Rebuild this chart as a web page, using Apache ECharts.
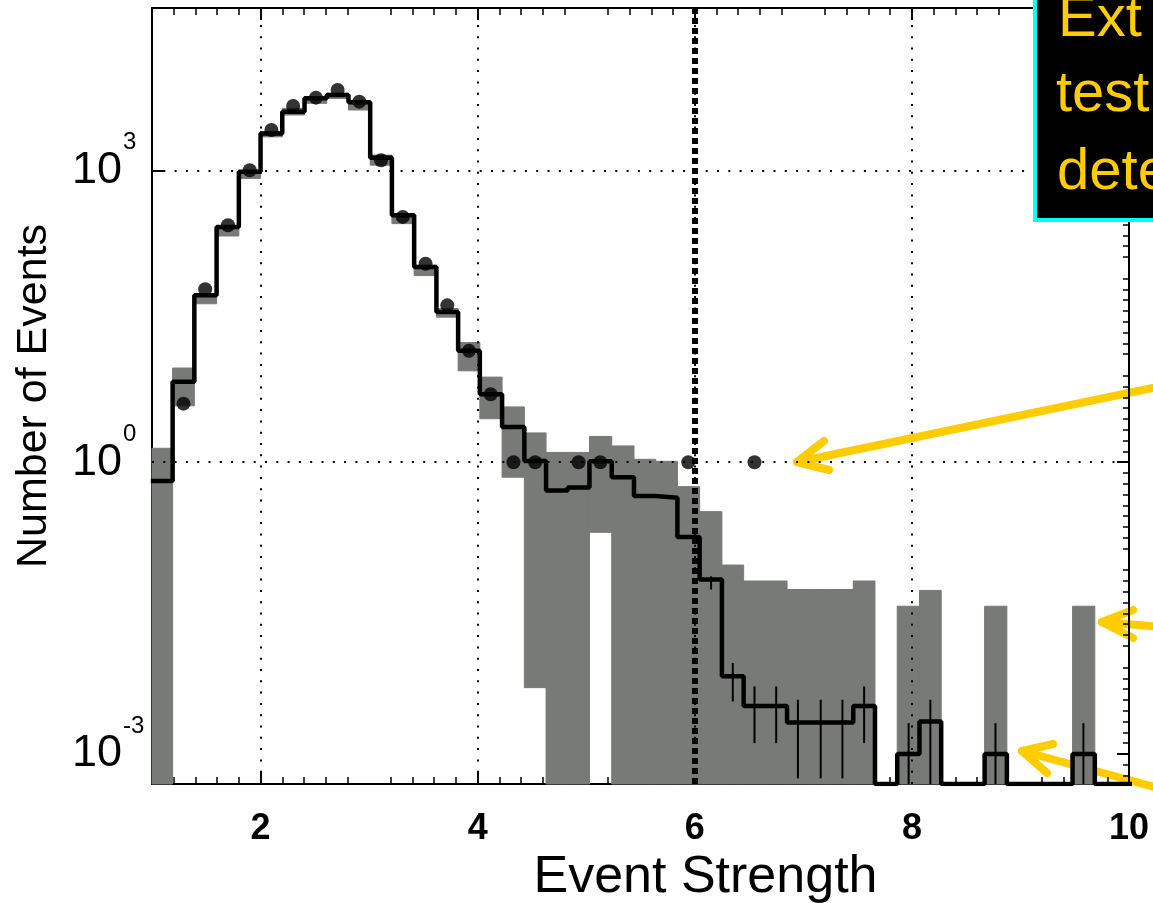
<!DOCTYPE html>
<html lang="en">

<head>
    <meta charset="UTF-8">
    <title>Event Strength</title>
    <script src="https://cdn.jsdelivr.net/npm/echarts@6/dist/echarts.min.js"></script>
    <style>
        html, body { margin: 0; padding: 0; background: #fff; }
        #container { width: 1153px; height: 903px; }
    </style>
</head>

<body>
    <div id="container"></div>
    <script type="text/javascript">
        // bin centres (bins are 0.2 wide)
        var binCenters = [1.09, 1.29, 1.49, 1.70, 1.90, 2.10, 2.30, 2.51, 2.71, 2.91,
            3.11, 3.31, 3.52, 3.72, 3.92, 4.12, 4.33, 4.53, 4.73, 4.93,
            5.13, 5.34, 5.54, 5.74, 5.94, 6.15, 6.35, 6.55, 6.75, 6.95,
            7.16, 7.36, 7.56, 7.76, 7.97, 8.17, 8.37, 8.57, 8.77, 8.98,
            9.18, 9.38, 9.58, 9.79, 9.99];
        // expected (black step line), 0 = empty bin
        var expected = [0.64, 6.7, 52, 262, 970, 2400, 4030, 5520, 5970, 5020,
            1350, 346, 102, 35, 14, 5.0, 2.3, 1.03, 0.51, 0.55,
            1.02, 0.70, 0.45, 0.43, 0.17, 0.062, 0.0063, 0.0031, 0.0031, 0.0021,
            0.0021, 0.0021, 0.0031, 0, 0.001, 0.00215, 0, 0, 0.001, 0,
            0, 0, 0.001, 0, 0];
        // observed events (dots)
        var observed = [0, 4, 60, 273, 1007, 2606, 4603, 5610, 6730, 5105,
            1276, 333, 110, 41, 14, 5, 1, 1, 0, 1,
            1, 0, 0, 0, 1, 0, 0, 1, 0, 0,
            0, 0, 0, 0, 0, 0, 0, 0, 0, 0,
            0, 0, 0, 0, 0];
        // grey systematic band, null = no band, 0 = down to the axis
        var bandLow = [0, 3.8, 42.6, 212, 828, 2220, 3720, 4910, 5520, 4190,
            1135, 284, 83, 31, 8.7, 2.8, 0.70, 0.0048, 0, 0,
            0.19, 0, 0, 0, 0, 0, 0, 0, 0, 0,
            0, 0, 0, null, 0, 0, null, null, 0, null,
            null, null, 0, null, null];
        var bandHigh = [1.39, 9.3, 54, 252, 970, 2510, 4360, 5520, 6220, 4910,
            1440, 361, 106, 38, 17, 7.5, 3.7, 2.0, 1.26, 1.26,
            1.84, 1.47, 1.07, 1.02, 0.56, 0.31, 0.0875, 0.060, 0.060, 0.049,
            0.049, 0.049, 0.060, null, 0.033, 0.048, null, null, 0.033, null,
            null, null, 0.033, null, null];
        // statistical error bars on the expectation
        var errLow = [null, null, null, null, null, null, null, null, null, null,
            null, null, null, null, null, null, null, null, null, null,
            null, null, null, null, null, 0.049, 0.00346, 0.00129, 0.00129, 0.00056,
            0.00056, 0.00056, 0.00129, null, 0, 0, null, null, 0, null,
            null, null, 0, null, null];
        var errHigh = [null, null, null, null, null, null, null, null, null, null,
            null, null, null, null, null, null, null, null, null, null,
            null, null, null, null, null, 0.067, 0.0086, 0.00494, 0.00494, 0.0036,
            0.0036, 0.0036, 0.00494, null, 0.00207, 0.0036, null, null, 0.00207, null,
            null, null, 0.00207, null, null];
        var xTickLabels = [2, 4, 6, 8, 10];
        var yTickLabels = [0.001, 1, 1000];
        var cutValue = 6;

        var xMin = 1, xMax = 10;
        var yMin = 4.9e-4, yMax = 4.69e4;
        var halfBin = 0.101;
        var font = "'Liberation Sans', Arial, Helvetica, sans-serif";
        var grey = '#787a77';
        var gold = '#ffcc00';

        // bin edges half way between neighbouring centres
        var n = binCenters.length;
        var edges = [binCenters[0] - halfBin];
        for (var i = 1; i < n; i++) edges.push((binCenters[i - 1] + binCenters[i]) / 2);
        edges.push(binCenters[n - 1] + halfBin);

        var stepData = [];
        var bandData = [];
        var errData = [];
        var dotData = [];
        for (var i = 0; i < n; i++) {
            var c = binCenters[i];
            var v = expected[i] > 0 ? expected[i] : yMin;
            stepData.push([edges[i], v], [edges[i + 1], v]);
            if (bandHigh[i] !== null) bandData.push([edges[i], edges[i + 1], bandLow[i], bandHigh[i]]);
            if (errHigh[i] !== null) errData.push([c, errLow[i], errHigh[i]]);
            if (observed[i] > 0) dotData.push([c, observed[i]]);
        }

        // small ticks on the right axis, evenly spaced in log (about 9 a decade)
        var rightMinor = [];
        for (var k = -29; k <= 42; k++) {
            if (k % 9 !== 0) rightMinor.push(Math.pow(10, k / 9));
        }

        function renderBand(params, api) {
            var lo = api.value(2) > 0 ? api.value(2) : yMin;
            var p1 = api.coord([Math.max(api.value(0), xMin), api.value(3)]);
            var p2 = api.coord([api.value(1), lo]);
            return {
                type: 'rect',
                shape: { x: p1[0], y: p1[1], width: p2[0] - p1[0], height: p2[1] - p1[1] },
                style: { fill: grey, stroke: grey, lineWidth: 1 }
            };
        }

        function renderErr(params, api) {
            var c = api.value(0);
            var lo = api.value(1) > 0 ? api.value(1) : yMin;
            var p1 = api.coord([c, lo]);
            var p2 = api.coord([c, api.value(2)]);
            return {
                type: 'line',
                shape: { x1: p1[0], y1: p1[1], x2: p2[0], y2: p2[1] },
                style: { stroke: '#000', lineWidth: 2 }
            };
        }

        function arrow(start, tip, arm1, arm2) {
            var st = { stroke: gold, lineWidth: 8, lineCap: 'round', lineJoin: 'round', fill: null };
            return {
                type: 'group',
                z: 102,
                children: [
                    { type: 'polyline', shape: { points: [start, tip] }, style: st },
                    { type: 'polyline', shape: { points: [arm1, tip, arm2] }, style: st }
                ]
            };
        }

        var dotted = { color: '#000', width: 2, type: [2, 9.3] };
        var gridMarks = [];
        [2, 4, 6, 8].forEach(function (x) { gridMarks.push({ xAxis: x }); });
        yTickLabels.forEach(function (y) { gridMarks.push({ yAxis: y }); });

        var xAxisBase = {
            type: 'value',
            min: xMin,
            max: xMax,
            interval: 1,
            axisLine: { show: true, onZero: false, lineStyle: { color: '#000', width: 2 } },
            axisTick: { show: true, inside: true, length: 12, customValues: [2, 4, 6, 8], lineStyle: { color: '#000', width: 2 } },
            minorTick: { show: true, splitNumber: 5, length: 7, lineStyle: { color: '#000', width: 1.5 } },
            splitLine: { show: false },
            minorSplitLine: { show: false }
        };
        var yAxisBase = {
            type: 'log',
            logBase: 10,
            min: yMin,
            max: yMax,
            axisLine: { show: true, onZero: false, lineStyle: { color: '#000', width: 2 } },
            axisTick: { show: true, inside: true, length: 12, customValues: yTickLabels, lineStyle: { color: '#000', width: 2 } },
            minorTick: { show: false },
            splitLine: { show: false },
            minorSplitLine: { show: false }
        };

        var dom = document.getElementById('container');
        var myChart = echarts.init(dom, null, { renderer: 'canvas' });
        var option = {
            animation: false,
            backgroundColor: '#fff',
            grid: { left: 152, right: 24, top: 8, bottom: 119, containLabel: false, outerBoundsMode: 'none' },
            xAxis: [
                Object.assign({}, xAxisBase, {
                    position: 'bottom',
                    axisLabel: {
                        customValues: xTickLabels,
                        color: '#000', fontSize: 36, fontWeight: 'bold', fontFamily: font, margin: 27
                    },
                    name: 'Event Strength',
                    nameLocation: 'middle',
                    nameGap: 68,
                    nameMoveOverlap: false,
                    nameTextStyle: { color: '#000', fontSize: 52, fontFamily: font, padding: [0, 0, 0, 130] }
                }),
                Object.assign({}, xAxisBase, { position: 'top', axisLabel: { show: false } })
            ],
            yAxis: [
                Object.assign({}, yAxisBase, {
                    position: 'left',
                    axisLabel: {
                        customValues: yTickLabels,
                        margin: 80,
                        align: 'left',
                        formatter: function (val) {
                            return '{b|10}{e|' + Math.round(Math.log10(val)) + '}';
                        },
                        rich: {
                            b: { fontSize: 45, color: '#000', fontFamily: font },
                            e: { fontSize: 24, color: '#000', fontFamily: font, padding: [0, 0, 56, 1] }
                        }
                    },
                    name: 'Number of Events',
                    nameLocation: 'middle',
                    nameGap: 96,
                    nameRotate: 90,
                    nameMoveOverlap: false,
                    nameTextStyle: { color: '#000', fontSize: 43, fontFamily: font }
                }),
                Object.assign({}, yAxisBase, {
                    position: 'right',
                    axisLabel: { show: false }
                }),
                Object.assign({}, yAxisBase, {
                    position: 'right',
                    axisLine: { show: false },
                    axisTick: { show: true, inside: true, length: 6, customValues: rightMinor, lineStyle: { color: '#000', width: 1.5 } },
                    axisLabel: { show: false }
                })
            ],
            series: [
                {
                    name: 'grid',
                    type: 'line',
                    data: [],
                    z: 1,
                    markLine: {
                        silent: true,
                        symbol: 'none',
                        label: { show: false },
                        lineStyle: dotted,
                        data: gridMarks
                    }
                },
                {
                    name: 'band',
                    type: 'custom',
                    renderItem: renderBand,
                    data: bandData,
                    z: 2
                },
                {
                    name: 'errors',
                    type: 'custom',
                    renderItem: renderErr,
                    data: errData,
                    z: 3
                },
                {
                    name: 'expected',
                    type: 'line',
                    data: stepData,
                    showSymbol: false,
                    symbol: 'none',
                    lineStyle: { color: '#000', width: 4.5 },
                    z: 4
                },
                {
                    name: 'observed',
                    type: 'scatter',
                    data: dotData,
                    symbol: 'circle',
                    symbolSize: 14,
                    itemStyle: { color: '#000' },
                    z: 5
                },
                {
                    name: 'cut',
                    type: 'line',
                    data: [],
                    z: 6,
                    markLine: {
                        silent: true,
                        symbol: 'none',
                        label: { show: false },
                        lineStyle: { color: '#000', width: 6, type: [6, 4] },
                        data: [{ xAxis: cutValue }]
                    }
                }
            ],
            graphic: [
                {
                    type: 'rect',
                    z: 100,
                    shape: { x: 1035, y: -10, width: 200, height: 230 },
                    style: { fill: '#000', stroke: '#00ffff', lineWidth: 4 }
                },
                { type: 'text', z: 101, x: 1058, y: 20, style: { text: 'Ext', fill: gold, font: '58px ' + font, verticalAlign: 'middle' } },
                { type: 'text', z: 101, x: 1056, y: 95, style: { text: 'test', fill: gold, font: '58px ' + font, verticalAlign: 'middle' } },
                { type: 'text', z: 101, x: 1057, y: 173, style: { text: 'dete', fill: gold, font: '58px ' + font, verticalAlign: 'middle' } },
                arrow([1162, 386], [797, 462], [824, 441], [829, 470]),
                arrow([1162, 627], [1102, 622], [1133, 610], [1133, 638]),
                arrow([1162, 789], [1022, 751], [1053, 744], [1047, 773])
            ]
        };

        myChart.setOption(option);
        window.addEventListener('resize', myChart.resize);
    </script>
</body>

</html>
